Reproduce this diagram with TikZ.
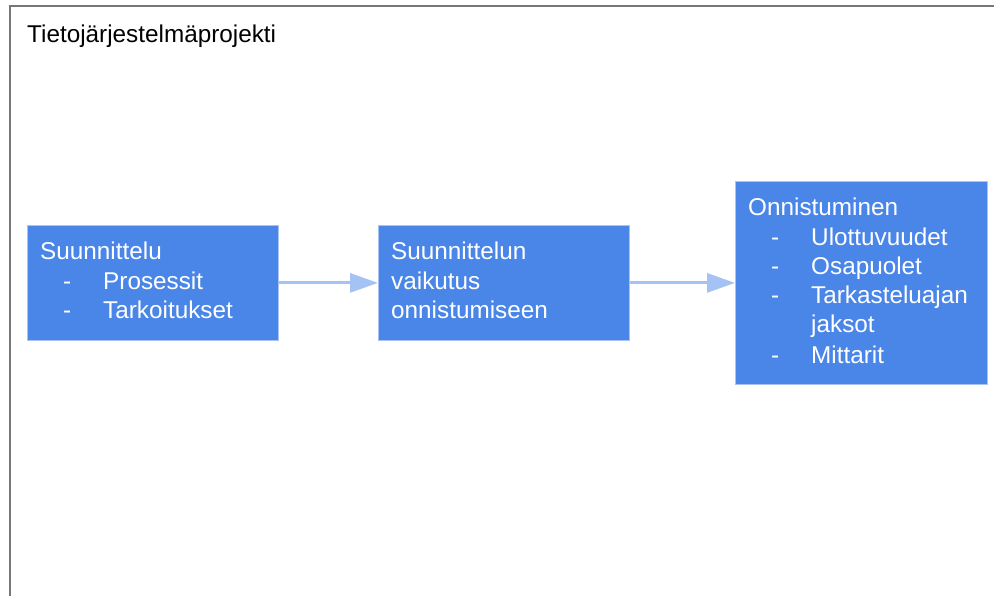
\documentclass[tikz,border=0pt]{standalone}
\usepackage{fontspec}
\setmainfont{Liberation Sans}
\usetikzlibrary{arrows.meta}
\definecolor{boxblue}{HTML}{4A86E8}
\definecolor{boxedge}{HTML}{A9C4F0}
\definecolor{arrowblue}{HTML}{A4C2F4}
\definecolor{framegray}{HTML}{777777}
\tikzset{
  box/.style={draw=boxedge, line width=0.8pt, fill=boxblue, anchor=north west, inner sep=0pt},
  txt/.style={anchor=base west, inner sep=0pt, text=white, font=\fontsize{24.3}{29}\selectfont},
  ttl/.style={anchor=base west, inner sep=0pt, text=black, font=\fontsize{24.3}{29}\selectfont},
  flow/.style={draw=arrowblue, line width=3pt, -{Triangle[length=28pt,width=19pt]}, shorten >=0pt}
}
\begin{document}
\begin{tikzpicture}[x=1pt,y=-1pt]
\useasboundingbox (0,0) rectangle (994,596);
\draw[framegray, line width=2pt] (10,598) -- (10,6) -- (995,6);
\node[ttl] (title) at (27,43) {Tietojärjestelmäprojekti};

\node[box, minimum width=251pt, minimum height=115pt] (b1) at (27,225) {};
\node[box, minimum width=251pt, minimum height=115pt] (b2) at (378,225) {};
\node[box, minimum width=252pt, minimum height=203pt] (b3) at (735,181) {};

\draw[flow] (b1.east) -- (b2.west);
\draw[flow] (b2.east) -- (b3.west |- b2.east);

% box 1
\node[txt] (t11) at (40,260) {Suunnittelu};
\node[txt] (d12) at (63,290) {-};
\node[txt] (t12) at (103,290) {Prosessit};
\node[txt] (d13) at (63,319) {-};
\node[txt] (t13) at (103,319) {Tarkoitukset};

% box 2
\node[txt] (t21) at (391,260) {Suunnittelun};
\node[txt] (t22) at (391,290) {vaikutus};
\node[txt] (t23) at (391,319) {onnistumiseen};

% box 3
\node[txt] (t31) at (748,216) {Onnistuminen};
\node[txt] (d32) at (771,246) {-};
\node[txt] (t32) at (811,246) {Ulottuvuudet};
\node[txt] (d33) at (771,275) {-};
\node[txt] (t33) at (811,275) {Osapuolet};
\node[txt] (d34) at (771,304) {-};
\node[txt] (t34) at (811,304) {Tarkasteluajan};
\node[txt] (t35) at (811,333) {jaksot};
\node[txt] (d36) at (771,363) {-};
\node[txt] (t36) at (811,363) {Mittarit};
\end{tikzpicture}
\end{document}
